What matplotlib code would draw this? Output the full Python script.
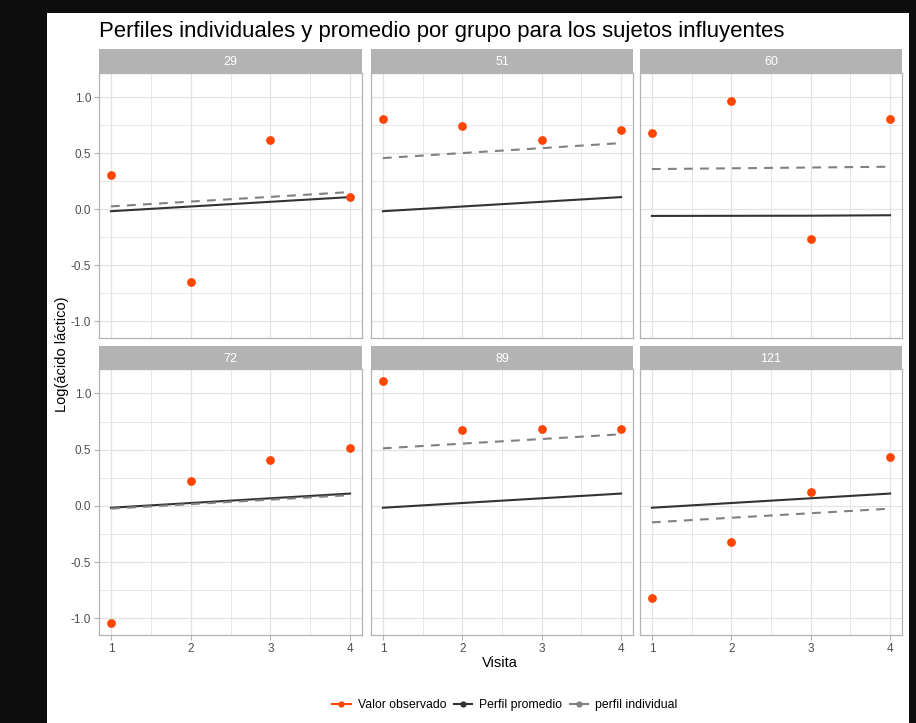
import matplotlib
matplotlib.use("Agg")
import matplotlib.pyplot as plt
from matplotlib.lines import Line2D
from matplotlib.patches import Rectangle
import numpy as np

plt.rcParams['font.family'] = ['Liberation Sans', 'DejaVu Sans']

# ---- data ----
subjects = ["29", "51", "60", "72", "89", "121"]
visits = [1, 2, 3, 4]

observed = {
    "29": [0.31, -0.646, 0.62, 0.113],
    "51": [0.806, 0.744, 0.622, 0.708],
    "60": [0.684, 0.964, -0.265, 0.806],
    "72": [-1.04, 0.22, 0.405, 0.518],
    "89": [1.11, 0.676, 0.685, 0.685],
    "121": [-0.818, -0.318, 0.122, 0.432],
}
group_mean = {
    "29": [-0.016, 0.026, 0.068, 0.110],
    "51": [-0.016, 0.026, 0.068, 0.110],
    "60": [-0.058, -0.057, -0.056, -0.052],
    "72": [-0.016, 0.026, 0.068, 0.110],
    "89": [-0.016, 0.026, 0.068, 0.110],
    "121": [-0.016, 0.026, 0.068, 0.110],
}
individual = {
    "29": [0.027, 0.070, 0.112, 0.155],
    "51": [0.458, 0.503, 0.547, 0.592],
    "60": [0.360, 0.367, 0.374, 0.381],
    "72": [-0.024, 0.016, 0.056, 0.096],
    "89": [0.512, 0.554, 0.595, 0.637],
    "121": [-0.146, -0.105, -0.065, -0.024],
}

title = "Perfiles individuales y promedio por grupo para los sujetos influyentes"
xlabel = "Visita"
ylabel = "Log(ácido láctico)"
legend_labels = ["Valor observado", "Perfil promedio", "perfil individual"]

# ---- style ----
W, H = 916, 723
C_OBS = "#FF4500"
C_MEAN = "#333333"
C_IND = "#808080"
C_STRIP = "#B3B3B3"
C_GRID = "#E3E3E3"
C_BORDER = "#B3B3B3"
C_TICKLAB = "#4D4D4D"

fig = plt.figure(figsize=(W / 100, H / 100), dpi=100)
fig.patch.set_facecolor("#0D0D0D")
fig.patches.append(Rectangle((47 / W, 0), (909 - 47) / W, 1 - 13 / H,
                             transform=fig.transFigure, facecolor="white",
                             edgecolor="none", zorder=-10))


def fig_box(x0, x1, y_top, y_bot):
    return [x0 / W, 1 - y_bot / H, (x1 - x0) / W, (y_bot - y_top) / H]


cols = [(99, 362), (371, 633), (640, 902)]
rows = [((49, 73), (73, 338)), ((346, 369), (369, 635))]

# shared limits with 5% expansion
all_vals = np.concatenate([np.r_[observed[s], group_mean[s], individual[s]] for s in subjects])
ymin, ymax = all_vals.min(), all_vals.max()
pad = 0.05 * (ymax - ymin)
ylim = (ymin - pad, ymax + pad)
xlim = (1 - 0.15, 4 + 0.15)

for i, s in enumerate(subjects):
    r, c = divmod(i, 3)
    (sy0, sy1), (py0, py1) = rows[r]
    x0, x1 = cols[c]
    ax = fig.add_axes(fig_box(x0, x1, py0, py1))
    ax.set_xlim(*xlim)
    ax.set_ylim(*ylim)

    # grid
    for yv in [-0.75, -0.25, 0.25, 0.75]:
        ax.axhline(yv, color=C_GRID, lw=0.6, zorder=0)
    for xv in [1.5, 2.5, 3.5]:
        ax.axvline(xv, color=C_GRID, lw=0.6, zorder=0)
    for yv in [-1.0, -0.5, 0.0, 0.5, 1.0]:
        ax.axhline(yv, color=C_GRID, lw=0.9, zorder=0)
    for xv in visits:
        ax.axvline(xv, color=C_GRID, lw=0.9, zorder=0)

    ax.plot(visits, group_mean[s], color=C_MEAN, lw=1.5, zorder=2)
    ax.plot(visits, individual[s], color=C_IND, lw=1.5, zorder=2,
            linestyle=(0, (4.2, 3.5)))
    ax.plot(visits, observed[s], linestyle="none", marker="o", ms=6.3,
            color=C_OBS, markeredgewidth=0, zorder=3)

    ax.set_xticks(visits)
    ax.set_yticks([-1.0, -0.5, 0.0, 0.5, 1.0])
    ax.tick_params(length=3.5, width=0.8, color=C_BORDER, labelcolor=C_TICKLAB,
                   labelsize=8.5, pad=2)
    if c == 0:
        ax.set_yticklabels(["-1.0", "-0.5", "0.0", "0.5", "1.0"])
    else:
        ax.tick_params(axis="y", left=False, labelleft=False)
    if r == 1:
        ax.set_xticklabels([str(v) for v in visits])
    else:
        ax.tick_params(axis="x", bottom=False, labelbottom=False)
    for sp in ax.spines.values():
        sp.set_color(C_BORDER)
        sp.set_linewidth(0.9)

    # facet strip
    sax = fig.add_axes(fig_box(x0, x1, sy0, sy1))
    sax.set_facecolor(C_STRIP)
    sax.set_xticks([])
    sax.set_yticks([])
    for sp in sax.spines.values():
        sp.set_visible(False)
    sax.text(0.5, 0.45, s, color="white", fontsize=9, ha="center", va="center",
             transform=sax.transAxes)

fig.text(99 / W, 1 - 31 / H, title, fontsize=15.9, color="black",
         ha="left", va="center")
fig.text(500 / W, 1 - 663 / H, xlabel, fontsize=10.5, color="black",
         ha="center", va="center")
fig.text(62 / W, 1 - 354 / H, ylabel, fontsize=10.5, color="black",
         ha="center", va="center", rotation=90)

handles = [
    Line2D([], [], color=C_OBS, lw=1.5, marker="o", ms=4.5, markeredgewidth=0),
    Line2D([], [], color=C_MEAN, lw=1.5, marker="o", ms=4.5, markeredgewidth=0),
    Line2D([], [], color=C_IND, lw=1.5, marker="o", ms=4.5, markeredgewidth=0),
]
fig.legend(handles, legend_labels, loc="center", ncol=3, frameon=False,
           bbox_to_anchor=(505 / W, 1 - 705 / H), fontsize=8.8,
           handlelength=1.5, handletextpad=0.6, columnspacing=0.6)

fig.savefig("out.png", dpi=100, facecolor=fig.get_facecolor())
